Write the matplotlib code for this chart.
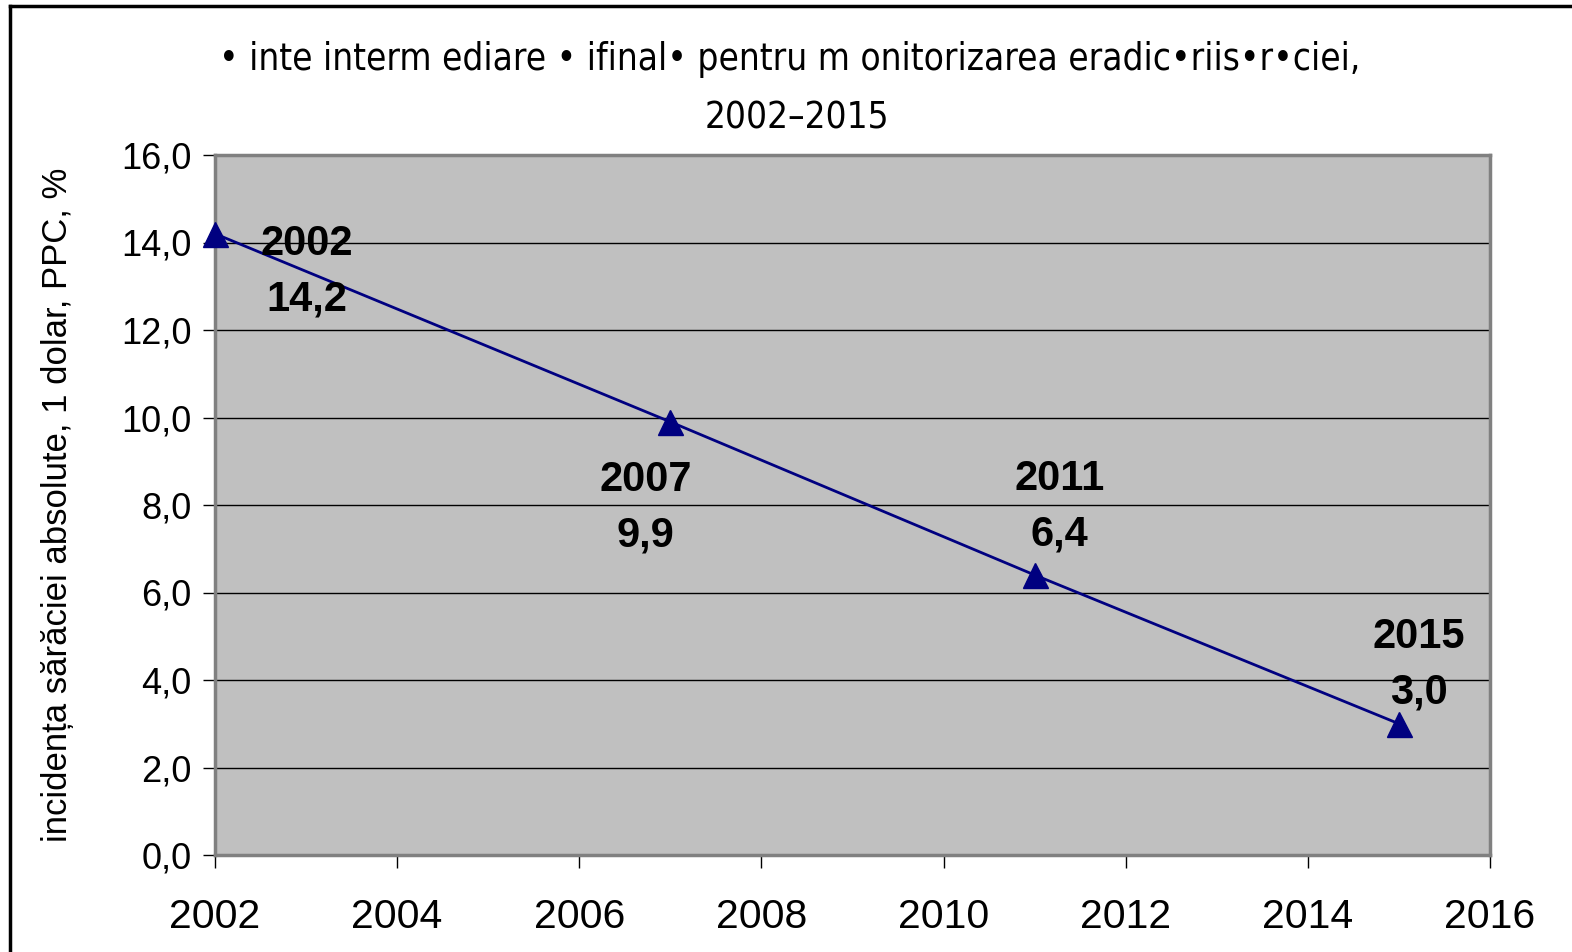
import matplotlib
matplotlib.use("Agg")
import matplotlib.pyplot as plt
from matplotlib.lines import Line2D

# datele graficului
ani = [2002, 2007, 2011, 2015]
valori = [14.2, 9.9, 6.4, 3.0]
titlu = ["• inte interm ediare • ifinal• pentru m onitorizarea eradic•riis•r•ciei,", "2002–2015"]
eticheta_y = "incidența sărăciei absolute, 1 dolar, PPC, %"
x_ticks = [2002, 2004, 2006, 2008, 2010, 2012, 2014, 2016]
y_ticks = [0, 2, 4, 6, 8, 10, 12, 14, 16]

# deplasarea etichetelor fata de puncte (pixeli)
deplasari = [(92, -38), (-25, -86), (25, 68), (20, 59)]

plt.rcParams["font.family"] = ["Liberation Sans", "DejaVu Sans"]

fig = plt.figure(figsize=(15.72, 9.52), dpi=100)
ax = fig.add_axes([215 / 1572, 1 - 855 / 952, 1275 / 1572, 700 / 952])
ax.set_facecolor("#C0C0C0")

ax.plot(ani, valori, color="#000080", lw=2, marker="^", ms=18, mfc="#000080", mec="#000080", clip_on=False, zorder=3)

for an, v, (dx, dy) in zip(ani, valori, deplasari):
    ax.annotate(f"{an}\n{v:.1f}".replace(".", ","), (an, v), xytext=(dx, dy), textcoords="offset pixels",
                ha="center", va="center", fontsize=30, fontweight="bold", linespacing=1.5, zorder=4)

ax.set_xlim(2002, 2016)
ax.set_ylim(0, 16)
ax.set_xticks(x_ticks)
ax.set_yticks(y_ticks)
ax.set_yticklabels([f"{t:.1f}".replace(".", ",") for t in y_ticks], fontsize=26)
ax.set_xticklabels([str(t) for t in x_ticks], fontsize=29.5)
ax.tick_params(axis="both", direction="out", length=9, width=1, color="black")
ax.tick_params(axis="x", pad=22)
ax.tick_params(axis="y", pad=8)
ax.yaxis.grid(True, color="black", lw=1)
ax.set_axisbelow(True)
for s in ax.spines.values():
    s.set_color("#808080")
    s.set_linewidth(2.5)

ax.set_ylabel(eticheta_y, fontsize=25, labelpad=34)

fig.text(790 / 1572, 1 - 60 / 952, titlu[0], ha="center", va="center", fontsize=26.5,
         family="DejaVu Sans", fontstretch="condensed")
fig.text(797 / 1572, 1 - 118 / 952, titlu[1], ha="center", va="center", fontsize=26.5,
         family="DejaVu Sans", fontstretch="condensed")

# chenarul exterior
fig.add_artist(Line2D([10 / 1572, 1], [1 - 6 / 952, 1 - 6 / 952], color="black", lw=2.5, transform=fig.transFigure))
fig.add_artist(Line2D([10 / 1572, 10 / 1572], [0, 1 - 6 / 952], color="black", lw=2.5, transform=fig.transFigure))

fig.savefig("out.png", dpi=100)
